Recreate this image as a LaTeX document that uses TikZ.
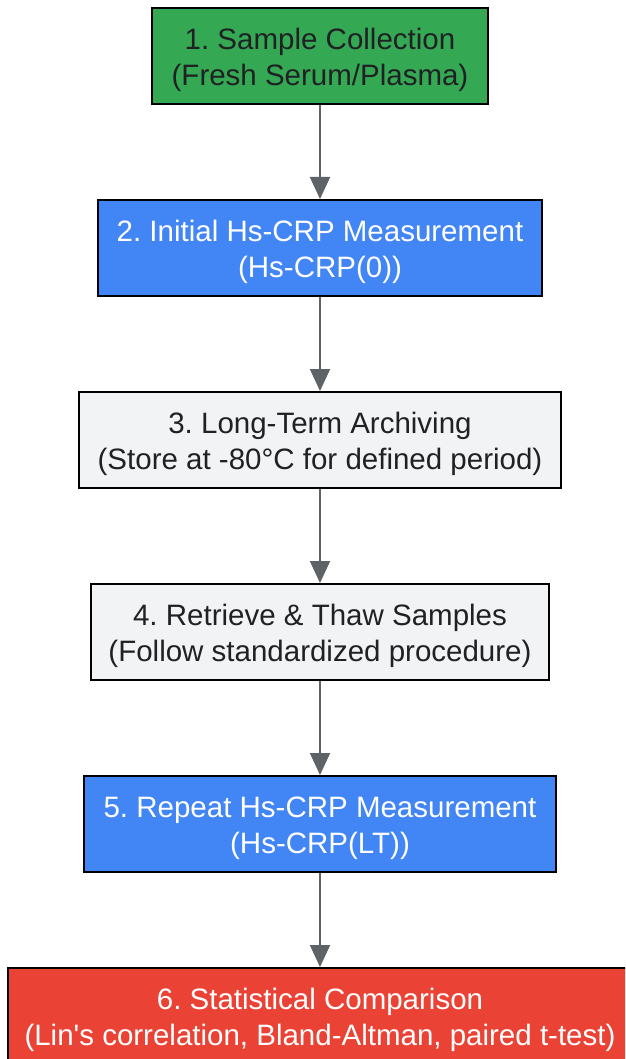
\documentclass[tikz,border=0pt]{standalone}
\usepackage{fontspec}
\setmainfont{Liberation Sans}[Ligatures=TeXOff]
\usetikzlibrary{arrows.meta}
\definecolor{gGreen}{HTML}{34A853}
\definecolor{gBlue}{HTML}{4285F4}
\definecolor{gGray}{HTML}{F1F3F4}
\definecolor{gRed}{HTML}{EA4335}
\definecolor{gText}{HTML}{202124}
\definecolor{gArrow}{HTML}{5F6368}
\newcommand{\topstrut}{\rule{0pt}{29pt}}
\begin{document}
\frenchspacing
\begin{tikzpicture}[x=1pt,y=-1pt,
  stepbox/.style={draw=black, line width=2pt, rectangle, minimum height=96pt, inner sep=0pt, align=center,
    font=\fontsize{29.5}{36}\selectfont},
  greenbox/.style={stepbox, fill=gGreen, text=gText},
  bluebox/.style={stepbox, fill=gBlue, text=white},
  graybox/.style={stepbox, fill=gGray, text=gText},
  redbox/.style={stepbox, fill=gRed, text=white},
  flow/.style={draw=gArrow, line width=2pt, -{Triangle[length=22pt,width=20pt]}}]
\useasboundingbox (0,0) rectangle (625,1059);
\clip (0,0) rectangle (625,1059);
\fill[white] (0,0) rectangle (625,1059);
\node[greenbox, minimum width=336pt] (s1) at (320,56) {\topstrut1. Sample Collection\\(Fresh Serum/Plasma)};
\node[bluebox, minimum width=444pt] (s2) at (320,248) {\topstrut2. Initial Hs-CRP Measurement\\(Hs-CRP(0))};
\node[graybox, minimum width=482pt] (s3) at (320,440) {\topstrut3. Long-Term Archiving\\(Store at -80°C for defined period)};
\node[graybox, minimum width=458pt] (s4) at (320,632) {\topstrut4. Retrieve \& Thaw Samples\\(Follow standardized procedure)};
\node[bluebox, minimum width=472pt] (s5) at (320,824) {\topstrut5. Repeat Hs-CRP Measurement\\(Hs-CRP(LT))};
\node[redbox, minimum width=624pt] (s6) at (320,1016) {\topstrut6. Statistical Comparison\\(Lin's correlation, Bland-Altman, paired t-test)};
\draw[flow] (s1) -- (s2);
\draw[flow] (s2) -- (s3);
\draw[flow] (s3) -- (s4);
\draw[flow] (s4) -- (s5);
\draw[flow] (s5) -- (s6);
\end{tikzpicture}
\end{document}
